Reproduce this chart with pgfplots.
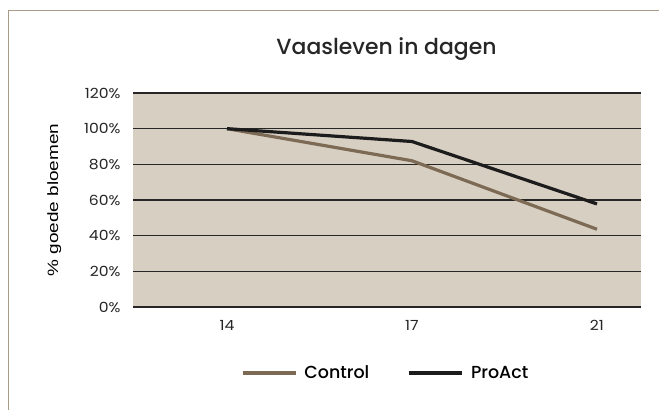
\documentclass[border=0pt]{standalone}
\usepackage{pgfplots}
\pgfplotsset{compat=1.18}
\usepackage{fontspec}
\setmainfont{Poppins}
\IfFontExistsTF{Poppins Medium}{\newfontfamily\medfont{Poppins Medium}}{\newfontfamily\medfont{Poppins}}
\newfontfamily\arialfont{Liberation Sans}[FakeStretch=1.27]
\newfontfamily\tickfont{Poppins}[FakeStretch=1.12]
\definecolor{bgtan}{HTML}{D8CFC3}
\definecolor{ctrl}{HTML}{7D6A55}
\definecolor{proact}{HTML}{1C1C1C}
\definecolor{frame}{HTML}{A89B8A}
\begin{document}
\begin{tikzpicture}[x=1bp,y=1bp]
\useasboundingbox (0,0) rectangle (659,409);
\fill[white] (0,0) rectangle (659,409);
\draw[frame, line width=1.2bp] (8.5,-5) -- (8.5,398.5) -- (670,398.5);
\node[font=\medfont\fontsize{22}{26}\selectfont, text=black!85] at (386.5,360) {Vaasleven in dagen};
\begin{axis}[
  at={(133bp,102bp)}, anchor=south west,
  scale only axis, width=508bp, height=214bp,
  xmin=-0.508, xmax=2.238, ymin=0, ymax=120,
  xtick={0,1,2}, xticklabels={14,17,21},
  ytick={0,20,40,60,80,100,120},
  yticklabels={0\%,20\%,40\%,60\%,80\%,100\%,120\%},
  axis line style={draw=none},
  major tick length=0pt,
  ymajorgrids, grid style={black!85, line width=1.1bp},
  axis background/.style={fill=bgtan},
  ticklabel style={font=\tickfont\fontsize{14}{16}\selectfont, text=black!85},
  yticklabel style={xshift=-9bp},
  xticklabel style={yshift=-10bp},
  ylabel={\% goede bloemen},
  every axis y label/.style={at={(rel axis cs:-0.155,0.5)}, rotate=90, anchor=center,
    font=\arialfont\fontsize{15}{18}\selectfont, text=black},
  legend columns=2,
  legend style={at={(0.497,-0.308)}, anchor=center, draw=none, fill=none,
    font=\medfont\fontsize{17.5}{20}\selectfont,
    /tikz/every odd column/.append style={column sep=5bp},
    /tikz/every even column/.append style={column sep=36bp}},
  legend image code/.code={\draw[#1, line width=3.8bp] (0bp,0bp) -- (53bp,0bp);},
]
\addplot[ctrl, line width=3.2bp, line join=round] coordinates {(0,100) (1,82) (2,43.6)};
\addlegendentry{Control}
\addplot[proact, line width=3.2bp, line join=round] coordinates {(0,100) (1,92.8) (2,57.8)};
\addlegendentry{ProAct}
\end{axis}
\end{tikzpicture}
\end{document}
